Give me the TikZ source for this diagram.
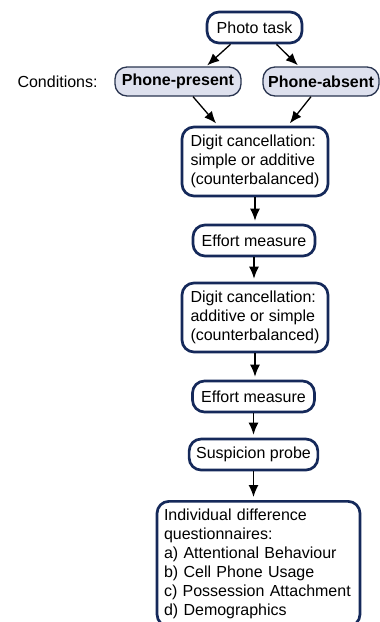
\documentclass[tikz,border=0pt]{standalone}
\usepackage{fontspec}
\setmainfont{Liberation Sans}
\usetikzlibrary{arrows.meta}
\definecolor{navy}{HTML}{15295A}
\definecolor{condfill}{HTML}{DEE1EE}
\definecolor{condline}{HTML}{2A3550}
\tikzset{
  box/.style={draw=navy, line width=2.7pt, rounded corners=12pt, fill=white,
    font=\fontsize{16}{19}\selectfont, inner xsep=7pt, inner ysep=4pt},
  cond/.style={draw=condline, line width=1.3pt, rounded corners=12pt, fill=condfill,
    font=\fontsize{16}{19}\selectfont\bfseries, inner xsep=5pt, inner ysep=4pt,
    minimum height=29pt},
  arr/.style={line width=1.3pt, -{Latex[length=12pt,width=10pt]}, shorten >=3pt},
  lbl/.style={font=\fontsize{16}{19}\selectfont}
}
\begin{document}
\begin{tikzpicture}[x=1pt,y=-1pt]
\useasboundingbox (0,0) rectangle (380,622);
\node[box, minimum width=95pt, minimum height=31pt] (photo) at (254.5,27.5) {Photo task};
\node[cond, minimum width=126pt] (pp) at (178,81.5) {Phone-present};
\node[cond, minimum width=116pt] (pa) at (321,81.5) {Phone-absent};
\node[lbl, anchor=west] (condl) at (14,81.5) {Conditions:};
\node[box, minimum width=146pt, minimum height=69pt, align=left] (d1) at (255,161.5)
  {Digit cancellation:\\simple or additive\\(counterbalanced)};
\node[box, minimum width=122pt, minimum height=31pt] (e1) at (254,240.5) {Effort measure};
\node[box, minimum width=146pt, minimum height=69pt, align=left] (d2) at (255,317.5)
  {Digit cancellation:\\additive or simple\\(counterbalanced)};
\node[box, minimum width=122pt, minimum height=31pt] (e2) at (253.5,396.5) {Effort measure};
\node[box, minimum width=123pt, minimum height=31pt] (sp) at (253.5,454.5) {Suspicion probe};
\node[box, anchor=north, text width=189pt, align=left, minimum height=125pt,
  inner ysep=5pt] (iq) at (258.5,500)
  {Individual difference\\questionnaires:\\a) Attentional Behaviour\\b) Cell Phone Usage\\c) Possession Attachment\\d) Demographics};
\draw[arr] ([xshift=-24pt]photo.south) -- ([xshift=27pt,yshift=-1pt]pp.north);
\draw[arr] ([xshift=22pt]photo.south) -- ([xshift=-21pt,yshift=-1pt]pa.north);
\draw[arr] ([xshift=15pt]pp.south) -- ([xshift=-37pt]d1.north);
\draw[arr] ([xshift=-10pt]pa.south) -- ([xshift=33pt]d1.north);
\draw[arr] (d1.south) -- (d1.south |- e1.north);
\draw[arr] (e1.south) -- (e1.south |- d2.north);
\draw[arr] (d2.south) -- (d2.south |- e2.north);
\draw[arr] (e2.south) -- (e2.south |- sp.north);
\draw[arr] (sp.south) -- (sp.south |- iq.north);
\end{tikzpicture}
\end{document}
